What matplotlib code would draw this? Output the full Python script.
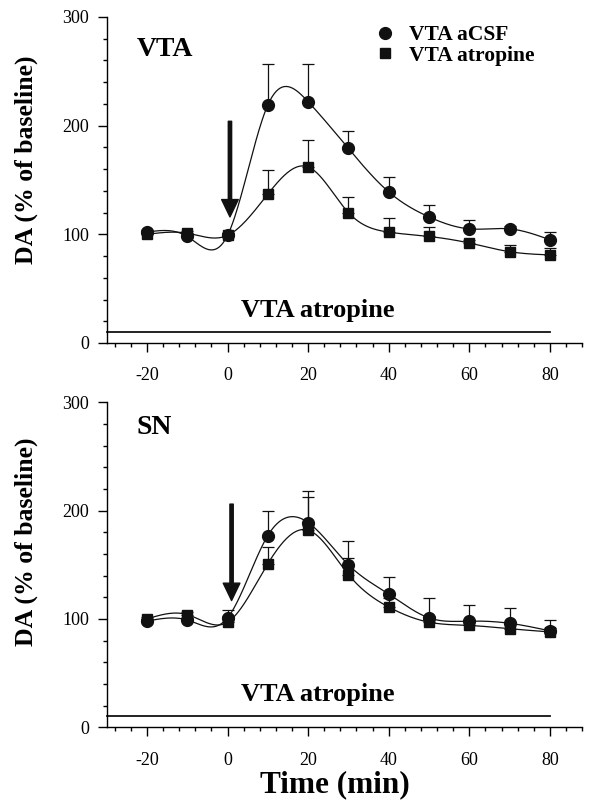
import numpy as np
import matplotlib.pyplot as plt
from matplotlib.ticker import MultipleLocator
from matplotlib.lines import Line2D

plt.rcParams['font.family'] = ['Liberation Serif', 'DejaVu Serif']
plt.rcParams['axes.unicode_minus'] = False

# --- DATA ---
time_min = [-20, -10, 0, 10, 20, 30, 40, 50, 60, 70, 80]

vta_acsf = [102, 98, 99, 219, 222, 179, 139, 116, 105, 105, 95]
vta_acsf_err = [2, 2, 2, 38, 35, 16, 14, 11, 8, 3, 7]
vta_atro = [100, 101, 99, 137, 162, 120, 102, 98, 92, 84, 81]
vta_atro_err = [2, 2, 2, 22, 25, 14, 13, 9, 3, 6, 6]

sn_acsf = [98, 99, 101, 177, 189, 150, 123, 101, 98, 96, 89]
sn_acsf_err = [2, 2, 7, 23, 29, 22, 16, 18, 15, 14, 10]
sn_atro = [100, 104, 97, 151, 182, 141, 111, 97, 94, 91, 88]
sn_atro_err = [2, 2, 6, 15, 31, 15, 8, 6, 5, 5, 4]

PANEL_NAMES = ['VTA', 'SN']
BAR_LABEL = 'VTA atropine'
LEGEND_LABELS = ['VTA aCSF', 'VTA atropine']


def natural_spline(x, y, n=400):
    """Natural cubic spline through the points, sampled on a fine grid."""
    x = np.asarray(x, float); y = np.asarray(y, float)
    k = len(x)
    h = np.diff(x)
    A = np.zeros((k, k)); b = np.zeros(k)
    A[0, 0] = 1; A[-1, -1] = 1
    for i in range(1, k - 1):
        A[i, i - 1] = h[i - 1]
        A[i, i] = 2 * (h[i - 1] + h[i])
        A[i, i + 1] = h[i]
        b[i] = 6 * ((y[i + 1] - y[i]) / h[i] - (y[i] - y[i - 1]) / h[i - 1])
    M = np.linalg.solve(A, b)
    xs = np.linspace(x[0], x[-1], n)
    idx = np.clip(np.searchsorted(x, xs) - 1, 0, k - 2)
    x0, x1 = x[idx], x[idx + 1]
    hh = x1 - x0
    t0 = x1 - xs; t1 = xs - x0
    ys = (M[idx] * t0**3 + M[idx + 1] * t1**3) / (6 * hh) \
        + (y[idx] / hh - M[idx] * hh / 6) * t0 \
        + (y[idx + 1] / hh - M[idx + 1] * hh / 6) * t1
    return xs, ys


def draw_panel(ax, name, acsf, acsf_err, atro, atro_err, arrow_x, arrow_top, arrow_tip,
               label_y, ylabel_pos):
    for vals, errs, mk, ms in [(atro, atro_err, 's', 7.5), (acsf, acsf_err, 'o', 8.5)]:
        xs, ys = natural_spline(time_min, vals)
        ax.plot(xs, ys, color='#111111', lw=0.9, zorder=2)
        ax.errorbar(time_min, vals, yerr=[np.zeros(len(errs)), errs], fmt=mk,
                    color='#111111', ms=ms, elinewidth=0.9, capsize=4.3,
                    capthick=0.9, zorder=3)

    ax.plot([-30, 80], [10.5, 10.5], color='#111111', lw=1.3, clip_on=False)
    ax.text(22.3, 30, BAR_LABEL, fontsize=19, fontweight='bold', ha='center', va='center')
    ax.text(-22.5, label_y, name, fontsize=20, fontweight='bold', ha='left', va='center')

    ax.annotate('', xy=(arrow_x, arrow_tip), xytext=(arrow_x, arrow_top),
                arrowprops=dict(width=2.4, headwidth=12, headlength=12.5,
                                facecolor='#111111', edgecolor='#111111', shrink=0))

    ax.set_xlim(-30, 88)
    ax.set_ylim(0, 300)
    ax.xaxis.set_major_locator(MultipleLocator(20))
    ax.xaxis.set_minor_locator(MultipleLocator(4))
    ax.yaxis.set_major_locator(MultipleLocator(100))
    ax.yaxis.set_minor_locator(MultipleLocator(20))
    ax.set_xticks([-20, 0, 20, 40, 60, 80])
    ax.tick_params(which='major', direction='out', length=6.5, width=1.0, labelsize=13)
    ax.tick_params(axis='x', which='major', pad=11)
    ax.tick_params(axis='y', which='major', pad=6)
    ax.tick_params(which='minor', direction='out', length=3.2, width=1.0)
    for s in ['top', 'right']:
        ax.spines[s].set_visible(False)
    for s in ['left', 'bottom']:
        ax.spines[s].set_linewidth(1.0)
    ax.set_ylabel('DA (% of baseline)', fontsize=18.5, fontweight='bold')
    ax.yaxis.set_label_coords(-0.145, ylabel_pos)


fig = plt.figure(figsize=(5.97, 8.07), dpi=100)
ax_top = fig.add_axes([0.1787, 0.575, 0.7963, 0.404])
ax_bot = fig.add_axes([0.1787, 0.0988, 0.7963, 0.4027])

draw_panel(ax_top, PANEL_NAMES[0], vta_acsf, vta_acsf_err, vta_atro, vta_atro_err,
           0.6, 204, 116, 270, 0.561)
draw_panel(ax_bot, PANEL_NAMES[1], sn_acsf, sn_acsf_err, sn_atro, sn_atro_err,
           1.0, 206, 117, 277, 0.570)

handles = [Line2D([], [], marker='o', ls='none', color='#111111', ms=8.5),
           Line2D([], [], marker='s', ls='none', color='#111111', ms=7.5)]
ax_top.legend(handles, LEGEND_LABELS, loc='center left', bbox_to_anchor=(0.5625, 0.913),
              frameon=False, handlelength=1.0, handletextpad=0.6, labelspacing=0.02,
              prop={'size': 15.5, 'weight': 'bold'}, borderpad=0, borderaxespad=0)

fig.text(335 / 597, 1 - 785 / 807, 'Time (min)', fontsize=22.5, fontweight='bold',
         ha='center', va='center')

fig.savefig('out.png', dpi=100)
